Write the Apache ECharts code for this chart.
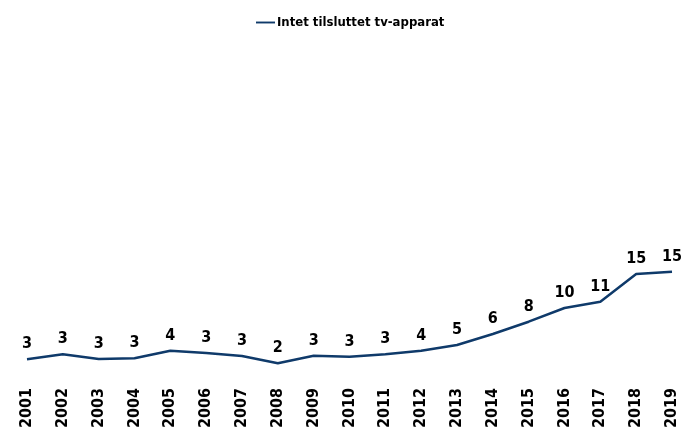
<!DOCTYPE html>
<html>
<head>
<meta charset="utf-8">
<script src="https://cdn.jsdelivr.net/npm/echarts@6/dist/echarts.min.js"></script>
<style>
  html, body { margin: 0; padding: 0; background: #ffffff; }
  #chart { width: 681px; height: 428px; }
</style>
</head>
<body>
<div id="chart"></div>
<script>
// Years on the x axis
const years = ['2001','2002','2003','2004','2005','2006','2007','2008','2009','2010',
               '2011','2012','2013','2014','2015','2016','2017','2018','2019'];

// Share of households with no connected TV set (percent)
const noTvShare = [2.53, 3.24, 2.57, 2.67, 3.76, 3.43, 3.0, 1.96, 3.04, 2.9,
                   3.24, 3.76, 4.57, 6.14, 7.9, 9.86, 10.76, 14.71, 15.04];

const seriesName = 'Intet tilsluttet tv-apparat';

const lineColor = '#0F3A6A';
const font = 'DejaVu Sans Condensed';

const chart = echarts.init(document.getElementById('chart'));
chart.setOption({
  animation: false,
  legend: {
    top: 11,
    left: 251,
    itemWidth: 19,
    itemHeight: 2,
    itemGap: 10,
    icon: 'path://M0,0 L20,0 L20,2 L0,2 Z',
    textStyle: { fontFamily: font, fontWeight: 'bold', fontSize: 13, color: '#000', padding: [0, 0, 0, -3] },
    data: [seriesName]
  },
  grid: { left: 27, right: 9, top: 27, bottom: 51, containLabel: false, outerBoundsMode: 'none' },
  xAxis: {
    type: 'category',
    data: years,
    boundaryGap: false,
    axisLine: { show: false },
    axisTick: { show: false },
    axisLabel: {
      rotate: 90,
      margin: 11,
      fontFamily: font,
      fontWeight: 'bold',
      fontSize: 16,
      color: '#000'
    }
  },
  yAxis: {
    type: 'value',
    min: 0,
    max: 50,
    show: false,
    splitLine: { show: false }
  },
  series: [{
    name: seriesName,
    type: 'line',
    data: noTvShare,
    symbol: 'circle',
    symbolSize: 0,
    showSymbol: true,
    lineStyle: { color: lineColor, width: 2.5 },
    itemStyle: { color: lineColor },
    label: {
      show: true,
      position: 'top',
      distance: 7,
      formatter: p => Math.round(p.value).toString(),
      fontFamily: font,
      fontWeight: 'bold',
      fontSize: 16,
      color: '#000'
    }
  }]
});
</script>
</body>
</html>
